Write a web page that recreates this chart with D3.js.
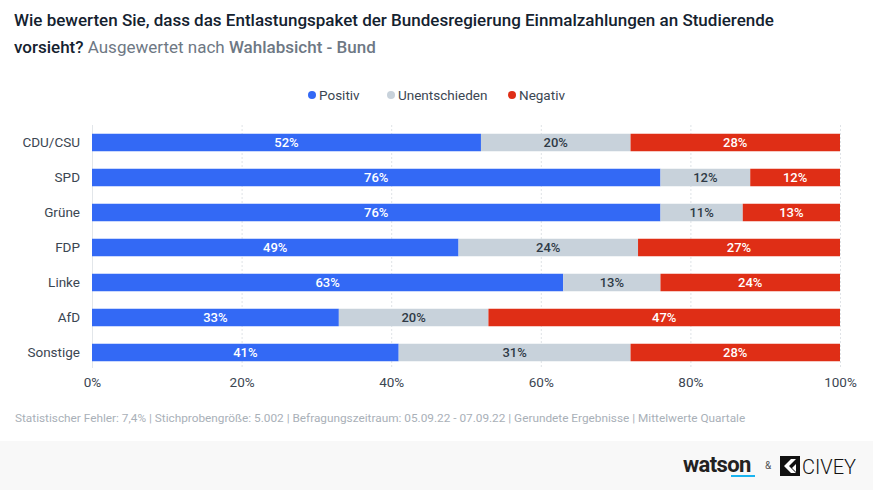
<!DOCTYPE html>
<html><head><meta charset="utf-8">
<script src="https://cdn.jsdelivr.net/npm/d3@7"></script>
<style>body{margin:0;background:#fff;font-family:Roboto,"Noto Sans",sans-serif}svg{display:block}</style>
</head><body><svg id="c" width="873" height="490"></svg>
<script>
const categories = ["CDU/CSU","SPD","Grüne","FDP","Linke","AfD","Sonstige"];
const positiv = [52,76,76,49,63,33,41];
const unentschieden = [20,12,11,24,13,20,31];
const negativ = [28,12,13,27,24,47,28];
const seriesNames = ["Positiv","Unentschieden","Negativ"];
const tickValues = [0,20,40,60,80,100];

const colors = ["#3369f5","#c8d2db","#df2e16"];
const textColors = ["#ffffff","#2f3a46","#ffffff"];

const svg = d3.select("#c");
const W = 873, H = 490;

// footer band
svg.append("rect").attr("x",0).attr("y",441).attr("width",W).attr("height",49).attr("fill","#f8f8f8");

// title
const t = svg.append("text").attr("x",14).attr("y",26).attr("font-size",17).attr("font-weight",500).attr("fill","#14222f");
t.text("Wie bewerten Sie, dass das Entlastungspaket der Bundesregierung Einmalzahlungen an Studierende");
const t2 = svg.append("text").attr("x",14).attr("y",53).attr("font-size",17);
t2.append("tspan").attr("font-weight",500).attr("fill","#14222f").text("vorsieht?");
t2.append("tspan").attr("fill","#6e7884").text(" Ausgewertet nach ");
t2.append("tspan").attr("fill","#6e7884").attr("font-weight",500).text("Wahlabsicht - Bund");

// legend
const legendX = [308, 387, 508];
seriesNames.forEach((n,i)=>{
  const g = svg.append("g").attr("transform",`translate(${legendX[i]},95)`);
  g.append("circle").attr("cx",4).attr("cy",0).attr("r",4).attr("fill",colors[i]);
  g.append("text").attr("x",11).attr("y",4.5).attr("font-size",13.5).attr("fill","#3b4652").text(n);
});

const x = d3.scaleLinear().domain([0,100]).range([92,840]);
const y = d3.scaleBand().domain(categories).range([125,370]).paddingInner(0.5).paddingOuter(0.25);

// grid
svg.append("g").selectAll("line").data(tickValues).join("line")
  .attr("x1",d=>x(d)+0.5).attr("x2",d=>x(d)+0.5).attr("y1",125).attr("y2",368)
  .attr("stroke",d=>d===0?"#e2e6ea":"#dfe3e7").attr("stroke-width",1)
  .attr("stroke-dasharray",d=>d===0?null:"2,2");

// axis
const axis = d3.axisBottom(x).tickValues(tickValues).tickFormat(d=>d+"%").tickSize(0).tickPadding(0);
const ag = svg.append("g").attr("transform","translate(0,387)").call(axis);
ag.select(".domain").remove();
ag.selectAll("text").attr("font-size",13.5).attr("fill","#3b4652").attr("font-family","Roboto,sans-serif").attr("dy",0);

// category labels
svg.append("g").selectAll("text").data(categories).join("text")
  .attr("x",80).attr("y",d=>y(d)+y.bandwidth()/2+4.5).attr("text-anchor","end")
  .attr("font-size",13.5).attr("fill","#3b4652").text(d=>d);

// stacked bars
const rows = categories.map((c,i)=>({cat:c,Positiv:positiv[i],Unentschieden:unentschieden[i],Negativ:negativ[i]}));
const stack = d3.stack().keys(seriesNames)(rows);
stack.forEach((layer,li)=>{
  const g = svg.append("g");
  g.selectAll("rect").data(layer).join("rect")
    .attr("x",d=>x(d[0])).attr("width",d=>x(d[1])-x(d[0]))
    .attr("y",d=>y(d.data.cat)).attr("height",y.bandwidth())
    .attr("fill",colors[li]);
  g.selectAll("text").data(layer).join("text")
    .attr("x",d=>(x(d[0])+x(d[1]))/2).attr("y",d=>y(d.data.cat)+y.bandwidth()/2+4.5)
    .attr("text-anchor","middle").attr("font-size",13).attr("font-weight",500)
    .attr("fill",textColors[li]).text(d=>(d[1]-d[0])+"%");
});

// footer note
svg.append("text").attr("x",15).attr("y",422).attr("font-size",11.8).attr("fill","#a9b0b8")
  .text("Statistischer Fehler: 7,4% | Stichprobengröße: 5.002 | Befragungszeitraum: 05.09.22 - 07.09.22 | Gerundete Ergebnisse | Mittelwerte Quartale");

// logos
svg.append("text").attr("x",683).attr("y",472).attr("font-size",22).attr("font-weight",700)
  .attr("letter-spacing",-0.6).attr("fill","#222").text("watson");
svg.append("rect").attr("x",731).attr("y",475).attr("width",24).attr("height",2).attr("fill","#19b4f0");
svg.append("text").attr("x",765).attr("y",469).attr("font-size",10).attr("fill","#555").text("&");
const cg = svg.append("g").attr("transform","translate(780,456)");
cg.append("rect").attr("width",20).attr("height",20).attr("fill","#111");
cg.append("path").attr("d","M11 3 L4 10 L11 17 L16 17 L9 10 L16 3 Z").attr("fill","#fff");
cg.append("path").attr("d","M12 12 L16 8 L16 16 Z").attr("fill","#fff");
svg.append("text").attr("x",802).attr("y",474).attr("font-size",20).attr("fill","#111").attr("font-weight",300).text("CIVEY");
</script></body></html>
